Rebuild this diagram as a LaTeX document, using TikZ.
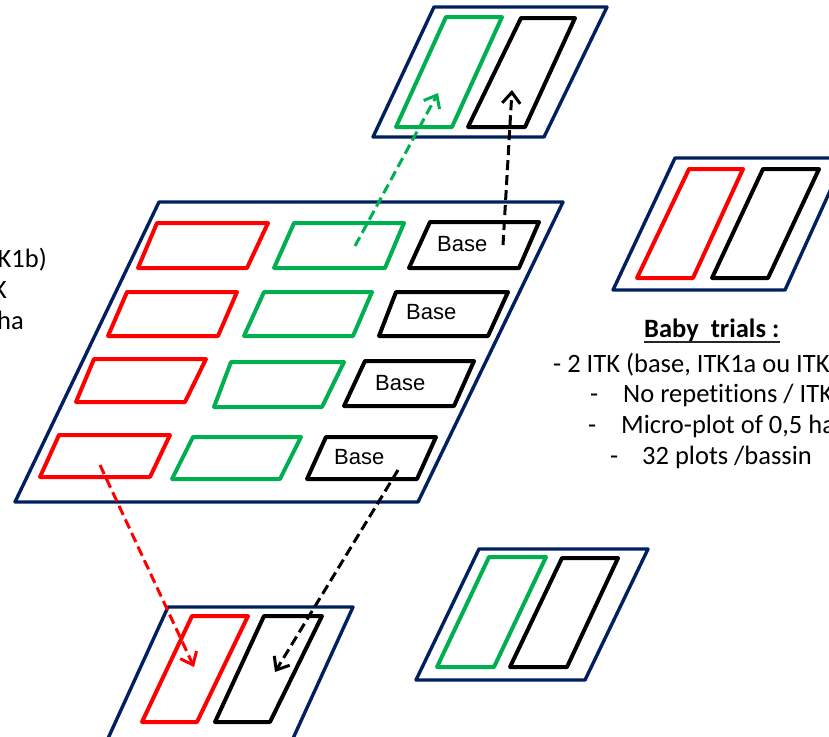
\documentclass[tikz,border=0pt]{standalone}
\usepackage{fontspec}
\setmainfont{Carlito}[Ligatures=CommonOff]
\newfontfamily\basefont{Liberation Sans}
\usetikzlibrary{arrows.meta}
\definecolor{navy}{RGB}{0,32,96}
\definecolor{pgreen}{RGB}{0,176,80}
\definecolor{pred}{RGB}{255,0,0}
\begin{document}
\begin{tikzpicture}[x=1pt,y=-1pt,
  frame/.style={draw=navy,line width=3.4pt,line join=round},
  plotbox/.style={line width=4pt,line join=round},
  conn/.style={line width=3pt,dash pattern=on 10pt off 5pt,-{Straight Barb[length=11pt,width=18pt,line width=3pt]}},
  basetxt/.style={font=\basefont\fontsize{22}{26}\selectfont,inner sep=0pt,anchor=base west},
  txt/.style={font=\fontsize{26.5}{31}\selectfont,inner sep=0pt}]
\useasboundingbox (0,0) rectangle (829,736);
\clip (0,0) rectangle (829,736);

% big field
\draw[frame] (159,202) -- (563,202) -- (418,502) -- (15,502) -- cycle;
% row 1
\draw[plotbox,pred]   (157,223) -- (268,223) -- (247,268) -- (138,268) -- cycle;
\draw[plotbox,pgreen] (294,223) -- (404,223) -- (385,268) -- (274,268) -- cycle;
\draw[plotbox,black]  (430,222) -- (539,222) -- (519,268) -- (409,268) -- cycle;
% row 2
\draw[plotbox,pred]   (127,292) -- (237,292) -- (218,336) -- (108,336) -- cycle;
\draw[plotbox,pgreen] (264,292) -- (372,292) -- (353,336) -- (244,336) -- cycle;
\draw[plotbox,black]  (396,292) -- (508,292) -- (488,336) -- (379,336) -- cycle;
% row 3
\draw[plotbox,pred]   (94,359) -- (206,359) -- (185,402) -- (76,402) -- cycle;
\draw[plotbox,pgreen] (231,362) -- (344,362) -- (322,407) -- (214,407) -- cycle;
\draw[plotbox,black]  (365,361) -- (474,361) -- (454,406) -- (344,406) -- cycle;
% row 4
\draw[plotbox,pred]   (59,435) -- (170,435) -- (150,477) -- (40,477) -- cycle;
\draw[plotbox,pgreen] (193,437) -- (301,437) -- (280,479) -- (172,479) -- cycle;
\draw[plotbox,black]  (326,437) -- (436,437) -- (417,479) -- (307,479) -- cycle;

\node[basetxt] (b1) at (437,251) {Base};
\node[basetxt] (b2) at (406,319) {Base};
\node[basetxt] (b3) at (375,390) {Base};
\node[basetxt] (b4) at (334,464) {Base};

% top frame
\draw[frame] (434,7) -- (607,7) -- (544,137) -- (373,137) -- cycle;
\draw[plotbox,pgreen] (446,17) -- (502,17) -- (452,127) -- (396,127) -- cycle;
\draw[plotbox,black]  (521,18) -- (575,18) -- (525,127) -- (468,127) -- cycle;
% right frame
\draw[frame] (675,158) -- (845,158) -- (785,290) -- (613,290) -- cycle;
\draw[plotbox,pred]  (689,169) -- (743,169) -- (693,278) -- (637,278) -- cycle;
\draw[plotbox,black] (763,169) -- (819,169) -- (768,278) -- (712,278) -- cycle;
% bottom-right frame
\draw[frame] (479,549) -- (648,549) -- (585,680) -- (416,680) -- cycle;
\draw[plotbox,pgreen] (489,557) -- (546,557) -- (494,667) -- (437,667) -- cycle;
\draw[plotbox,black]  (562,558) -- (618,558) -- (567,667) -- (510,667) -- cycle;
% bottom frame
\draw[frame] (168,607) -- (353,607) -- (290,745) -- (105,745) -- cycle;
\draw[plotbox,pred]  (192,616) -- (248,616) -- (197,722) -- (142,722) -- cycle;
\draw[plotbox,black] (264,616) -- (322,616) -- (270,722) -- (215,722) -- cycle;

% connectors
\coordinate (gs) at (355,246); \coordinate (ge) at (438,93);
\coordinate (ks) at (503,245); \coordinate (ke) at (512,90);
\coordinate (rs) at (100,465); \coordinate (re) at (194,667);
\coordinate (ls) at (398,470); \coordinate (le) at (275,672);
\draw[conn,pgreen] (gs) -- (ge);
\draw[conn,black] (ks) -- (ke);
\draw[conn,pred] (rs) -- (re);
\draw[conn,black] (ls) -- (le);

% left text (cut)
\node[txt,anchor=base east] (l1) at (47,267) {K1b)};
\node[txt,anchor=base east] (l2) at (7,298) {K};
\node[txt,anchor=base east] (l3) at (24,329) {ha};

% right text
\node[txt,anchor=base west,font=\bfseries\fontsize{26.5}{31}\selectfont] (bt) at (644,337) {Baby\ \ trials :};
\draw[line width=1.4pt,black!85] ([yshift=-5pt]bt.base west) -- ([yshift=-5pt]bt.base east);
\node[txt,anchor=base west] (t1) at (553,372) {- 2 ITK (base, ITK1a ou ITK};
\node[txt,anchor=base west] (d2) at (590,402) {-};
\node[txt,anchor=base west] (t2) at (623,402) {No repetitions / ITK};
\node[txt,anchor=base west] (d3) at (588,433) {-};
\node[txt,anchor=base west] (t3) at (621,433) {Micro-plot of 0,5 ha};
\node[txt,anchor=base west] (d4) at (610,464) {-};
\node[txt,anchor=base west] (t4) at (642,464) {32 plots /bassin};
\end{tikzpicture}
\end{document}
